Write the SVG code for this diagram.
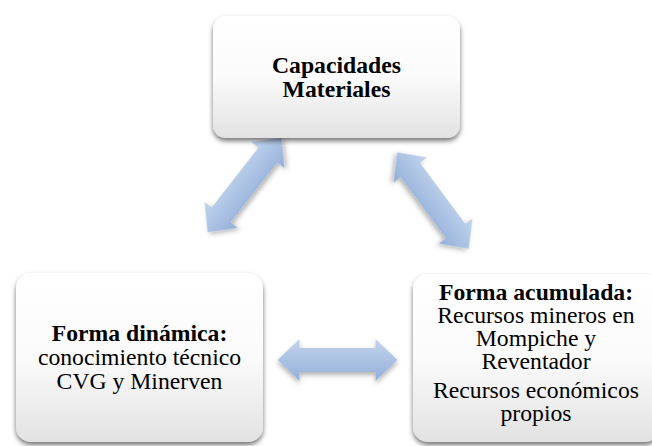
<svg xmlns="http://www.w3.org/2000/svg" width="652" height="446" viewBox="0 0 652 446">
  <defs>
    <linearGradient id="boxFill" x1="0" y1="0" x2="0" y2="1">
      <stop offset="0" stop-color="#ffffff"/>
      <stop offset="0.5" stop-color="#fbfbfb"/>
      <stop offset="1" stop-color="#e2e2e2"/>
    </linearGradient>
    <linearGradient id="arrowFill" x1="0" y1="0" x2="0" y2="1">
      <stop offset="0" stop-color="#c3d5ee"/>
      <stop offset="1" stop-color="#93afd9"/>
    </linearGradient>
    <filter id="boxShadow" x="-10%" y="-10%" width="120%" height="125%">
      <feDropShadow dx="0" dy="3" stdDeviation="2.5" flood-color="#000000" flood-opacity="0.55"/>
    </filter>
    <filter id="arrowShadow" x="-20%" y="-40%" width="140%" height="180%">
      <feDropShadow dx="0" dy="3" stdDeviation="2.5" flood-color="#000000" flood-opacity="0.3"/>
    </filter>
    <path id="dblArrow" d="M-60,0 L-38,-21 L-38,-12 L38,-12 L38,-21 L60,0 L38,21 L38,12 L-38,12 L-38,21 Z"/>
  </defs>
  <style>
    .box { fill: url(#boxFill); filter: url(#boxShadow); }
    .arrow { fill: url(#arrowFill); filter: url(#arrowShadow); }
    text { font-family: "Liberation Serif", "Times New Roman", serif; font-size: 23.7px; fill: #000000; text-anchor: middle; }
    .b { font-weight: bold; }
  </style>
  <rect width="652" height="446" fill="#ffffff"/>

  <g id="connectors">
    <use href="#dblArrow" class="arrow" transform="translate(244.5,185) rotate(-52)"/>
    <use href="#dblArrow" class="arrow" transform="translate(433,200.5) rotate(53.4)"/>
    <use href="#dblArrow" class="arrow" transform="translate(337.5,360)"/>
  </g>

  <g id="node-capacidades">
    <rect class="box" x="213" y="16" width="247" height="122" rx="13" ry="13"/>
    <text class="b" x="336.5" y="73">Capacidades</text>
    <text class="b" x="336.5" y="97">Materiales</text>
  </g>

  <g id="node-dinamica">
    <rect class="box" x="16" y="273" width="247" height="169" rx="15" ry="15"/>
    <text class="b" x="139.5" y="341">Forma dinámica:</text>
    <text x="139.5" y="365">conocimiento técnico</text>
    <text x="139.5" y="389">CVG y Minerven</text>
  </g>

  <g id="node-acumulada">
    <rect class="box" x="413" y="274" width="247" height="168" rx="15" ry="15"/>
    <text class="b" x="536" y="300">Forma acumulada:</text>
    <text x="536" y="323">Recursos mineros en</text>
    <text x="536" y="346">Mompiche y</text>
    <text x="536" y="369">Reventador</text>
    <text x="536" y="398">Recursos económicos</text>
    <text x="536" y="421">propios</text>
  </g>
</svg>
